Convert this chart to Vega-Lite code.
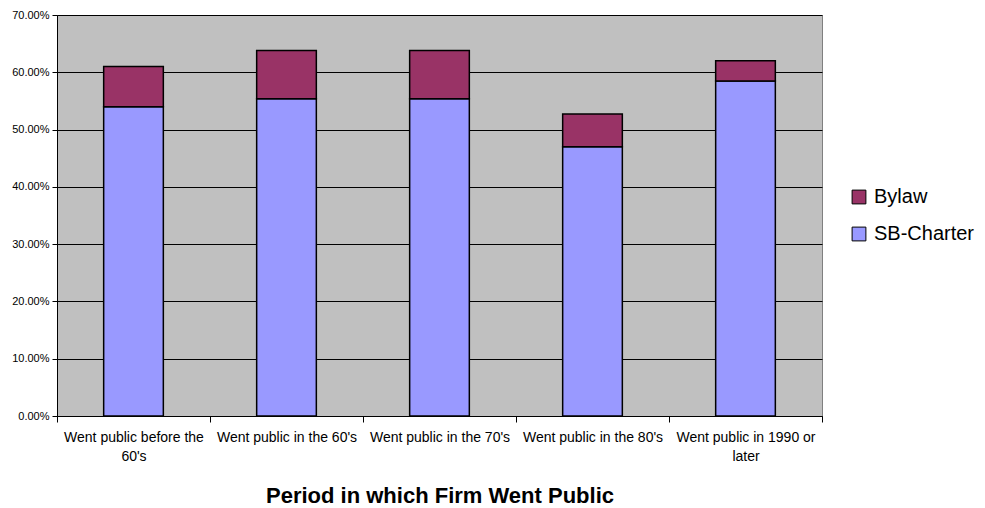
{
  "$schema": "https://vega.github.io/schema/vega-lite/v6.json",
  "autosize": "none",
  "width": 765,
  "height": 401,
  "padding": {"left": 57, "top": 15, "right": 163, "bottom": 92},
  "background": "white",
  "config": {
    "font": "Liberation Sans",
    "view": {"fill": "#C0C0C0", "stroke": "#808080", "strokeWidth": 1}
  },
  "data": {
    "values": [
      {"period": "Went public before the 60's", "series": "SB-Charter", "value": 0.540},
      {"period": "Went public before the 60's", "series": "Bylaw", "value": 0.070},
      {"period": "Went public in the 60's", "series": "SB-Charter", "value": 0.554},
      {"period": "Went public in the 60's", "series": "Bylaw", "value": 0.084},
      {"period": "Went public in the 70's", "series": "SB-Charter", "value": 0.554},
      {"period": "Went public in the 70's", "series": "Bylaw", "value": 0.084},
      {"period": "Went public in the 80's", "series": "SB-Charter", "value": 0.470},
      {"period": "Went public in the 80's", "series": "Bylaw", "value": 0.057},
      {"period": "Went public in 1990 or later", "series": "SB-Charter", "value": 0.585},
      {"period": "Went public in 1990 or later", "series": "Bylaw", "value": 0.035}
    ]
  },
  "mark": {"type": "bar", "stroke": "black", "strokeWidth": 1.5, "width": {"band": 0.39}},
  "encoding": {
    "x": {
      "field": "period",
      "type": "nominal",
      "sort": null,
      "scale": {"paddingInner": 0, "paddingOuter": 0},
      "axis": {
        "title": "Period in which Firm Went Public",
        "titleFontSize": 22,
        "titleFontWeight": "bold",
        "titleColor": "black",
        "titlePadding": 22,
        "labelAngle": 0,
        "labelFontSize": 14,
        "labelColor": "black",
        "labelPadding": 8,
        "labelLineHeight": 19,
        "labelLimit": 200,
        "labelExpr": "datum.value == \"Went public before the 60's\" ? ['Went public before the', \"60's\"] : datum.value == 'Went public in 1990 or later' ? ['Went public in 1990 or', 'later'] : datum.value",
        "ticks": true,
        "tickBand": "extent",
        "tickColor": "black",
        "tickWidth": 1,
        "tickOpacity": 1,
        "tickSize": 6,
        "domainColor": "black",
        "domainWidth": 1
      }
    },
    "y": {
      "field": "value",
      "type": "quantitative",
      "stack": "zero",
      "scale": {"domain": [0, 0.7], "nice": false},
      "axis": {
        "title": null,
        "format": ".2%",
        "values": [0, 0.1, 0.2, 0.3, 0.4, 0.5, 0.6, 0.7],
        "labelFontSize": 11,
        "labelColor": "black",
        "labelPadding": 3,
        "tickColor": "black",
        "tickSize": 5,
        "domainColor": "black",
        "gridColor": "black",
        "gridWidth": 1,
        "gridOpacity": 1
      }
    },
    "color": {
      "field": "series",
      "type": "nominal",
      "scale": {"domain": ["Bylaw", "SB-Charter"], "range": ["#993366", "#9999FF"]},
      "legend": {
        "title": null,
        "orient": "none",
        "legendX": 792,
        "legendY": 172,
        "symbolType": "square",
        "symbolSize": 190,
        "symbolStrokeColor": "black",
        "symbolStrokeWidth": 1,
        "symbolOpacity": 1,
        "labelFontSize": 20,
        "labelColor": "black",
        "labelOffset": 5,
        "rowPadding": 17
      }
    },
    "order": {"field": "series", "sort": "descending"}
  }
}
